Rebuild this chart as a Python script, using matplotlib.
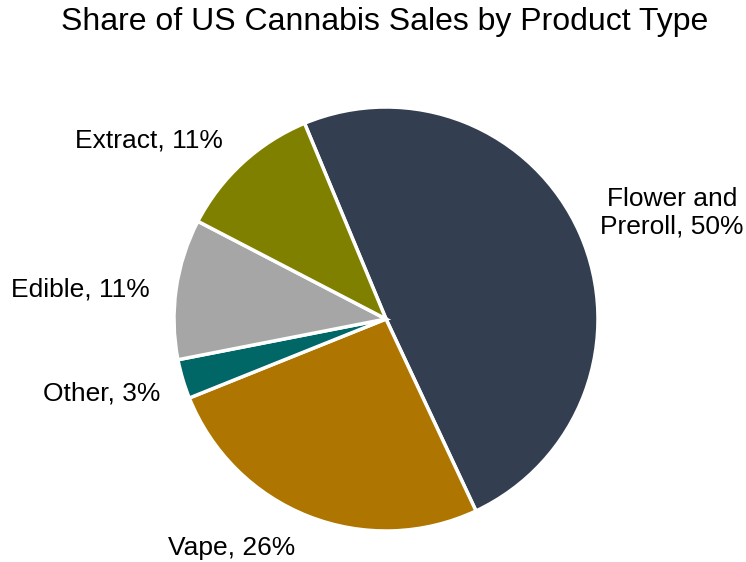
import matplotlib
matplotlib.use("Agg")
import matplotlib.pyplot as plt

# data, clockwise from the top
categories = ["Flower and\nPreroll", "Vape", "Other", "Edible", "Extract"]
shares = [49.3, 25.9, 3.0, 10.7, 11.1]
share_labels = ["50%", "26%", "3%", "11%", "11%"]
colors = ["#333F50", "#AE7600", "#006666", "#A6A6A6", "#808000"]

# label positions in pie coordinates (radius 1)
label_pos = [(1.35, 0.50), (-0.73, -1.08), (-1.34, -0.35), (-1.44, 0.14), (-1.12, 0.84)]

plt.rcParams['font.family'] = ['Liberation Sans', 'DejaVu Sans']

fig = plt.figure(figsize=(7.46, 5.62), dpi=100)
ax = fig.add_axes([174 / 746, 31 / 562, 424 / 746, 424 / 562])

ax.pie(shares, colors=colors, startangle=112.6, counterclock=False,
       wedgeprops=dict(edgecolor="white", linewidth=2.5))
ax.set_xlim(-1, 1)
ax.set_ylim(-1, 1)
ax.set_aspect("equal")

for cat, lab, (x, y) in zip(categories, share_labels, label_pos):
    ax.text(x, y, f"{cat}, {lab}", ha="center", va="center", fontsize=19,
            clip_on=False, linespacing=1.2)

fig.text(385 / 746, 1 - 22 / 562, "Share of US Cannabis Sales by Product Type",
         ha="center", va="center", fontsize=23)

fig.savefig("out.png", dpi=100)
